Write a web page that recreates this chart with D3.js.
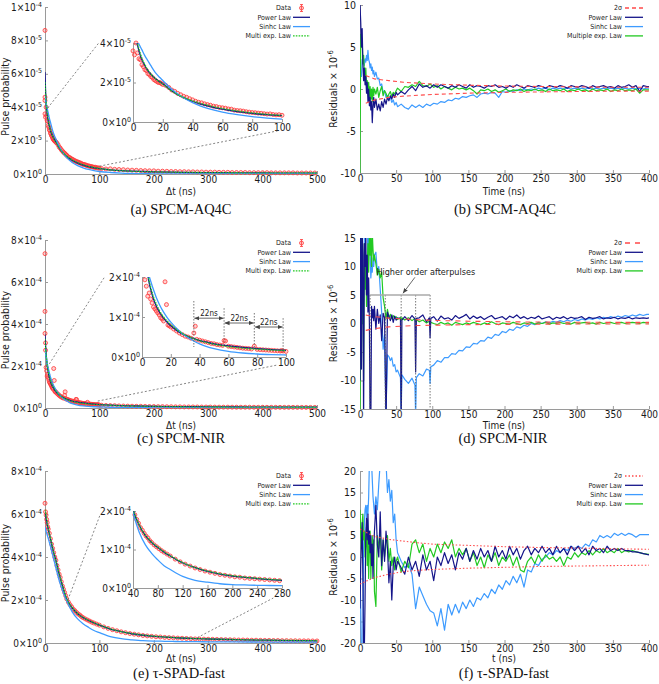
<!DOCTYPE html>
<html><head><meta charset="utf-8">
<script src="https://cdn.jsdelivr.net/npm/d3@7"></script>
<style>body{margin:0;background:#fff}svg{display:block;background:#fff}</style>
</head><body>
<svg id="chart" width="659" height="684"></svg>
<script>
// ---------------- DATA ----------------
const leftXTicks=[0,100,200,300,400,500];
const rightXTicks=[0,50,100,150,200,250,300,350,400];
const leftLegend=["Data","Power Law","Sinhc Law","Multi exp. Law"];
const bLegend=["2\u03c3","Power Law","Sinhc Law","Multiple exp. Law"];
const dfLegend=["2\u03c3","Power Law","Sinhc Law","Multi exp. Law"];
const captions=["(a) SPCM-AQ4C","(b) SPCM-AQ4C","(c) SPCM-NIR","(d) SPCM-NIR","(e) \u03c4-SPAD-fast","(f) \u03c4-SPAD-fast"];

// panel (a) — units of 1e-5
const aYTicks=[0,2,4,6,8,10];
const aYLabels=[["0","0"],["2","-5"],["4","-5"],["6","-5"],["8","-5"],["1","-4"]];
const aInsetXTicks=[0,20,40,60,80,100];
const aInsetYTicks=[0,2,4];
const aInsetYLabels=[["0","0"],["2","-5"],["4","-5"]];
const aDataT=[0,0,0,0,1,2,3,4,5,6,7,8,9,10,11,12,13,14,15,16,17,18,19,20,
22,24,26,28,30,32,34,36,38,40,42,44,46,48,50,52,54,56,58,60,62,64,66,68,70,72,74,76,78,80,82,84,86,88,90,92,94,96,98,100,
104,112,120,128,136,144,152,160,168,176,184,192,200,208,216,224,232,240,248,256,264,272,280,288,296,304,312,320,328,336,
344,352,360,368,376,384,392,400,408,416,424,432,440,448,456,464,472,480,488,496];
const aDataV=[8.6,4.6,4.4,3.6,3.4,4.0,3.5,3.2,3.15,2.9,2.8,2.65,2.6,2.45,2.4,2.3,2.25,2.15,2.1,2.05,2.0,2.0,1.95,1.9,
1.85,1.75,1.62,1.55,1.45,1.38,1.3,1.25,1.18,1.12,1.05,1.0,0.97,0.92,0.88,0.85,0.8,0.78,0.74,0.72,0.7,0.66,0.65,0.6,0.58,0.57,0.55,0.52,0.5,0.48,0.47,0.45,0.44,0.42,0.4,0.41,0.38,0.36,0.37,0.34,
0.33,0.3,0.31,0.28,0.27,0.26,0.24,0.23,0.22,0.21,0.2,0.19,0.19,0.17,0.17,0.16,0.15,0.15,0.14,0.14,
0.13,0.13,0.12,0.12,0.11,0.11,0.11,0.1,0.1,0.1,0.09,0.09,0.09,0.09,0.08,0.08,0.08,0.08,0.08,0.07,
0.07,0.07,0.07,0.07,0.07,0.06,0.06,0.06,0.06,0.06];
const aFitT=[0,1,2,3,4,5,6,8,10,12,15,18,20,25,30,35,40,45,50,60,70,80,90,100,120,140,160,180,200,250,300,350,400,450,500];
const aPower=[6.1,5.0,4.3,3.9,3.6,3.35,3.15,2.85,2.6,2.42,2.2,2.03,1.94,1.63,1.38,1.2,1.05,0.92,0.82,0.65,0.53,0.44,0.37,0.32,0.25,0.2,0.17,0.15,0.13,0.1,0.08,0.07,0.06,0.055,0.05];
const aSinhc=[4.7,4.5,4.3,4.1,3.95,3.8,3.65,3.35,3.1,2.85,2.5,2.25,2.1,1.72,1.42,1.18,0.98,0.82,0.69,0.5,0.37,0.27,0.2,0.15,0.09,0.055,0.035,0.02,0.012,0.005,0.002,0.001,0,0,0];
const aMulti=[5.5,4.9,4.4,4.0,3.7,3.45,3.22,2.9,2.63,2.43,2.2,2.02,1.92,1.62,1.39,1.21,1.07,0.95,0.85,0.68,0.56,0.46,0.39,0.33,0.25,0.2,0.165,0.145,0.13,0.1,0.085,0.075,0.07,0.065,0.06];
const aZoomMain=[[5,3.95],[100,0.47]];
const aZoomInset=[[-23,4.0],[97,-0.45]];

// panel (c) — units of 1e-4
const cYTicks=[0,2,4,6,8];
const cYLabels=[["0","0"],["2","-4"],["4","-4"],["6","-4"],["8","-4"]];
const cInsetXTicks=[0,20,40,60,80,100];
const cInsetYTicks=[0,1,2];
const cInsetYLabels=[["0","0"],["1","-4"],["2","-4"]];
const cDataT=[0,0,0,1,1,2,3,4,5,6,7,8,9,10,11,12,13,14,15,16,17,18,19,20,22,24,26,28,30,32,34,36,37,38,40,42,44,46,48,50,52,54,56,57,58,60,62,64,66,68,70,72,74,76,78,80,82,84,86,88,90,92,94,96,97,98,100,
104,112,120,128,136,144,152,160,168,176,184,192,200,208,216,224,232,240,248,256,264,272,280,288,296,304,312,320,328,336,
344,352,360,368,376,384,392,400,408,416,424,432,440,448,456,464,472,480,488,496];
const cDataV=[7.35,4.6,3.55,3.1,2.75,1.93,1.77,1.52,1.6,1.45,1.35,1.25,1.2,1.15,1.1,1.05,0.98,0.95,0.9,1.88,1.31,0.8,0.78,0.75,
0.7,0.65,0.6,0.56,0.52,0.5,0.47,0.6,0.77,0.44,0.42,0.4,0.38,0.36,0.34,0.33,0.31,0.3,0.29,0.41,0.4,0.27,0.26,0.25,0.24,0.23,0.22,0.215,0.21,0.2,0.27,0.19,0.185,0.18,0.175,0.17,0.165,0.16,0.155,0.15,0.16,0.15,0.14,
0.13,0.12,0.115,0.11,0.1,0.095,0.09,0.085,0.08,0.08,0.075,0.07,0.07,0.065,0.065,0.06,0.06,0.055,0.055,0.05,
0.05,0.05,0.048,0.046,0.045,0.044,0.042,0.04,0.04,0.04,0.038,0.037,0.036,0.035,0.035,0.034,0.033,0.033,0.032,0.032,
0.031,0.031,0.03,0.03,0.03,0.029,0.029,0.028,0.028,0.028];
const cFitT=aFitT;
const cPower=[3.5,3.0,2.6,2.3,2.05,1.85,1.7,1.45,1.27,1.13,0.97,0.85,0.78,0.64,0.54,0.47,0.41,0.37,0.33,0.28,0.24,0.21,0.185,0.165,0.135,0.115,0.1,0.09,0.08,0.065,0.055,0.048,0.043,0.039,0.036];
const cSinhc=[2.8,2.6,2.45,2.3,2.15,2.02,1.9,1.68,1.48,1.32,1.12,0.96,0.87,0.68,0.53,0.42,0.33,0.26,0.21,0.14,0.1,0.075,0.06,0.05,0.035,0.025,0.018,0.013,0.01,0.005,0.003,0.002,0.001,0,0];
const cMulti=[3.3,2.9,2.55,2.3,2.08,1.9,1.75,1.5,1.32,1.17,1.0,0.88,0.81,0.66,0.55,0.47,0.41,0.36,0.32,0.26,0.22,0.195,0.175,0.16,0.13,0.11,0.095,0.085,0.075,0.06,0.05,0.045,0.04,0.037,0.035];
const cZoomMain=[[8,2.1],[97,0.33]];
const cZoomInset=[[-26,2.0],[94,-0.2]];
const cMarkT=[36,57,78,98];
const cMarkTop=[1.4,1.22,1.1,0.97];
const cMarkBot=[0.25,0.37,0.25,0.12];
const cArrowV=[0.97,0.85,0.75];
const cArrowLabel="22ns";

// panel (e) — units of 1e-4
const eYTicks=cYTicks, eYLabels=cYLabels;
const eInsetXTicks=[40,80,120,160,200,240,280];
const eInsetYTicks=[0,1,2];
const eInsetYLabels=[["0","0"],["1","-4"],["2","-4"]];
const eDataT=[0,1,2,3,4,5,6,8,10,12,14,16,18,20,22,24,26,28,30,32,34,36,38,40,43,46,49,52,55,58,61,64,67,70,74,78,82,86,90,95,100,
108,116,124,132,140,148,156,164,172,180,188,196,204,212,220,228,236,244,252,260,268,276,284,292,300,308,316,324,332,340,
348,356,364,372,380,388,396,404,412,420,428,436,444,452,460,468,476,484,492,500];
const eDataV=[6.5,6.1,5.95,5.75,5.6,5.4,5.3,5.1,4.85,4.6,4.4,4.2,4.0,3.85,3.6,3.4,3.2,3.05,2.85,2.65,2.5,2.35,2.2,2.05,
1.9,1.78,1.68,1.57,1.5,1.42,1.35,1.3,1.23,1.18,1.12,1.07,1.02,0.97,0.93,0.88,0.83,
0.75,0.68,0.62,0.57,0.52,0.48,0.44,0.41,0.38,0.35,0.33,0.31,0.29,0.28,0.26,0.25,0.24,0.23,0.22,0.21,
0.2,0.19,0.185,0.18,0.175,0.17,0.165,0.16,0.155,0.15,0.145,0.14,0.14,0.135,0.13,0.13,0.125,0.12,0.12,0.115,
0.115,0.11,0.11,0.105,0.105,0.1,0.1,0.1,0.095,0.095];
const eFitT=[0,2,5,10,15,20,25,30,35,40,50,60,70,80,90,100,120,140,160,180,200,220,240,260,280,300,350,400,450,500];
const ePower=[6.1,5.8,5.4,4.85,4.3,3.85,3.3,2.85,2.4,2.05,1.63,1.36,1.18,1.05,0.93,0.83,0.65,0.53,0.43,0.36,0.31,0.275,0.245,0.22,0.2,0.185,0.155,0.13,0.115,0.1];
const eSinhc=[5.4,5.2,4.95,4.5,4.0,3.5,3.0,2.6,2.25,1.95,1.45,1.12,0.9,0.73,0.58,0.48,0.3,0.2,0.15,0.11,0.09,0.08,0.07,0.065,0.06,0.055,0.05,0.045,0.04,0.04];
const eMulti=[6.2,5.9,5.45,4.87,4.32,3.83,3.32,2.86,2.42,2.06,1.64,1.37,1.19,1.06,0.94,0.84,0.66,0.53,0.44,0.37,0.32,0.28,0.25,0.225,0.205,0.19,0.16,0.135,0.12,0.105];
const eZoomMain=[[42,2.0],[280,0.25]];
const eZoomInset=[[-13,1.9],[266,-0.26]];

// residual panels — units of 1e-6
const gridT=[0,1,2,3,4,5,6,7,8,9,10,11,12,13,14,15,16,17,18,19,20,
22,24,26,28,30,32,34,36,38,40,42,44,46,48,50,
52,57,62,67,72,77,82,87,92,97,102,107,112,117,122,127,132,137,142,147,
152,157,162,167,172,177,182,187,192,197,202,207,212,217,222,227,232,237,242,247,
252,257,262,267,272,277,282,287,292,297,302,307,312,317,322,327,332,337,342,347,
352,357,362,367,372,377,382,387,392,397,400];
const bYTicks=[-10,-5,0,5,10];
const bPower=[10,8,5,7.2,3,1,2.5,0.5,1.5,-0.5,0.8,-1.5,0,-2,-1,-2.5,-1.5,-4,-2,-1,-2.2,
-1.2,-2.5,-1.8,-2.6,-1.5,-2.2,-1.2,-1.8,-1.0,-1.4,-0.8,-1.2,-0.6,-1.0,-0.4,
-0.7,-0.3,-0.6,-0.1,0.3,-0.2,0.6,0.2,0.4,0.1,0.5,0.2,0.5,0.3,0.1,0.4,0.2,0.5,0.3,0.1,
0.5,0.2,0.4,0.3,0.1,0.4,0.3,0.5,0.2,0.3,0.1,0.4,0.2,0.5,0.3,0.1,0.4,0.3,0.2,0.4,
0.3,0.1,0.4,0.3,0.2,0.4,0.3,0.1,0.4,0.3,0.2,0.4,0.3,0.1,0.4,0.2,0.3,0.4,0.2,0.3,
0.1,0.4,0.2,0.3,0.5,0.2,0.4,-0.3,0.4,0.3,0.3];
const bSinhc=[1.3,2,1.5,3.5,3,3.5,2.8,3.6,3.2,4,3.4,4.6,3.5,3.2,2.5,3,2.2,2.6,1.8,2.2,1.5,
2,1.2,1.3,0.4,0.6,-0.4,-0.2,-1.0,-0.8,-1.2,-1.0,-1.6,-1.3,-1.9,-1.6,
-2.1,-1.8,-2.2,-2.4,-1.9,-2.2,-1.9,-2.2,-1.8,-2.0,-1.7,-1.8,-1.5,-1.6,-1.3,-1.4,-1.1,-1.2,-0.9,-1.0,
-0.8,-0.7,-1.0,-0.6,-0.5,-0.6,-0.4,-0.5,-1.0,-0.3,-0.4,-0.2,-0.3,-0.1,-0.2,0.0,-0.1,0.0,-0.1,0.1,
0.0,0.1,-0.1,0.1,0.0,0.1,0.0,0.1,0.0,0.1,0.0,0.1,0.0,0.1,0.0,0.1,0.0,0.1,0.0,0.1,
0.0,0.1,0.0,0.1,0.0,0.1,0.0,0.1,0.0,0.1,0.1];
const bMulti=[-10,6.5,5.5,6,3,4,2,1,2.5,0.5,1,-0.5,0.8,-1,0.3,-1.2,0,-1.5,0.2,-0.8,0,
-0.6,0.2,-1.0,-0.2,0.3,-0.8,-0.2,-0.5,-1.0,-0.6,-0.3,-0.9,-0.4,-0.6,-0.2,
0.1,-0.3,0.3,0.2,0.5,0.3,0.9,0.4,0.3,0.6,0.2,0.4,0.0,0.3,0.1,-0.1,0.2,0.0,0.1,-0.1,
0.1,-0.2,-0.6,-0.1,-0.2,0.0,-0.3,-0.1,-0.4,-0.2,0.0,-0.3,-0.1,-0.2,0.0,-0.3,-0.1,-0.2,0.0,-0.2,
-0.1,-0.3,0.0,-0.2,-0.1,-0.2,0.0,-0.3,-0.1,-0.2,0.0,-0.2,-0.1,-0.3,0.0,-0.2,-0.1,-0.2,0.0,-0.3,
-0.1,-0.2,0.0,-0.2,-0.1,-0.2,0.0,-0.5,-0.1,-0.1,-0.1];
const bSigT=[8,20,40,60,80,100,150,200,250,300,350,400];
const bSigUp=[1.6,1.2,1.0,0.8,0.7,0.6,0.45,0.35,0.3,0.25,0.2,0.2];
const bSigLo=[-1.7,-1.3,-1.0,-0.85,-0.75,-0.65,-0.5,-0.4,-0.35,-0.3,-0.25,-0.25];

const dT=[0,1,2,3,4,5,6,7,8,9,10,11,12,13,14,15,16,17,18,19,20,
22,24,26,28,30,32,34,36,38,40,42,44,46,48,50,
52,56,57,58,62,67,72,76,77,78,82,87,92,96,97,98,
102,107,112,117,122,127,132,137,142,147,152,157,162,167,172,177,182,187,192,197,
202,207,212,217,222,227,232,237,242,247,252,257,262,267,272,277,282,287,292,297,
302,307,312,317,322,327,332,337,342,347,352,357,362,367,372,377,382,387,392,397,400];
const dYTicks=[-15,-10,-5,0,5,10,15];
const dPower=[-10,18,-8,16,12,-18,14,10,16,5,12,2,8,0,-18,-18,3,1,2.5,0.5,3,
-1,2.5,0,1.5,-3,1.8,1,-18,2,1.2,0.5,1.5,0.2,1.3,0.6,
1.0,0.8,-18,0.6,1.2,0.5,1.4,0.8,-8.5,0.9,1.0,1.5,0.3,1.0,-2.5,0.9,
1.2,0.4,1.3,0.8,1.0,0.6,1.4,0.9,1.2,1.6,0.8,1.3,0.9,1.2,0.7,1.1,1.4,0.8,1.0,1.2,
0.7,1.3,1.0,1.5,0.9,1.2,0.8,1.1,0.9,1.3,0.8,1.0,1.2,0.7,1.1,0.9,1.2,0.8,1.1,0.9,
1.0,1.2,0.7,1.1,0.9,1.0,1.2,0.8,1.0,0.9,1.1,0.8,1.0,0.9,1.1,0.8,1.0,0.9,1.0,0.9,1.0];
const dSinhc=[2,16,18,6,18,16,17,12,18,16,17,10,16,14,12,8,10,9,11.5,10,12,
12.5,9,10,6,2,-4.5,-2,-15.5,-5.5,-5.8,-6.5,-6,-7.5,-7.2,-8.5,
-8.2,-9.5,-16,-9,-9.8,-10.5,-9.6,-10.8,-16,-9.5,-8.8,-9.2,-8.0,-8.2,-10.5,-7.6,
-7.3,-6.5,-6.8,-6.0,-6.0,-5.3,-5.4,-4.7,-4.8,-4.1,-4.2,-3.5,-3.6,-3.0,-3.1,-2.4,-2.6,-1.9,-2.1,-1.4,
-1.6,-1.0,-1.2,-0.6,-0.8,-0.3,-0.5,0.0,-0.2,0.2,0.0,0.3,0.1,0.4,0.2,0.5,0.3,0.6,0.4,0.7,
0.5,0.8,0.6,0.9,0.7,1.0,0.8,1.1,0.9,1.2,1.0,1.3,1.1,1.4,1.2,1.5,1.3,1.6,1.4,1.6,1.6];
const dMulti=[-18,7,15,0,8,-10,14,6,12,3,10,14,9,16,12,15,10,16,13,11,12,
10.5,8.5,9.5,8,9,4.5,3,0.8,2.5,1.0,1.6,0.8,1.4,0.9,1.2,
0.7,1.1,0.5,1.0,0.6,1.0,0.5,0.9,0.2,0.7,0.3,0.6,0.1,0.4,-0.2,0.2,
0.0,-0.2,0.2,-0.1,0.1,-0.3,0.2,0.0,-0.2,0.1,-0.1,0.2,0.0,-0.2,0.1,-0.1,0.3,0.0,-0.2,0.1,
0.0,-0.1,0.2,0.0,-0.2,0.1,0.0,0.2,-0.1,0.1,0.0,0.2,-0.1,0.1,0.0,0.2,0.0,0.1,-0.1,0.2,
0.0,0.1,0.2,0.0,0.1,-0.1,0.2,0.0,0.1,0.2,0.0,0.1,0.2,0.0,0.1,0.2,0.1,0.0,0.2,0.1,0.1];
const dSigT=[8,20,40,60,80,100,150,200,250,300,350,400];
const dSigUp=[1.5,1.2,0.95,0.8,0.65,0.55,0.4,0.3,0.25,0.22,0.2,0.2];
const dSigLo=[-1.2,-0.9,-0.6,-0.45,-0.35,-0.3,-0.2,-0.15,-0.12,-0.1,-0.1,-0.1];
const dAfterT=[14,35,57,77,97];
const dAfterSpan=[5,-15];
const dNoteText="Higher order afterpulses";
const dNotePos=[91,9.1];
const dNoteArrow=[[76,8.1],[59.5,5.3]];

const fYTicks=[-20,-15,-10,-5,0,5,10,15,20];
const fPower=[-12,-2,3,8,-5,-22,-22,-10,5,9,4,10,3,6,1,5,-2,3,-5,2,6,
12,3,0,10.5,-2,4,-1,6,2,-6,-1,-10,-2,0,-3,
-1,-2.5,-4,0,-3,-1,-4.5,0.5,-3,-1,-5.5,0,-2,1,-1.5,0.5,-3,1,-0.5,2,
-1,1.5,-0.5,2,0,1.5,-1,2.5,0,1.5,-0.5,2.5,0.5,2,-0.5,1.5,2.5,0.5,2,1,
2.5,1,2,0.5,2.5,1,2,0.5,2.5,1.5,2.5,1,2,0.5,2.5,1.5,2,1,2.5,1.5,
2,1.5,2,1.5,1.5,1.2,1.2,1.0,0.8,0.6,0.5];
const fSinhc=[-3,-12,-22,-22,-22,2,8,11,12,9,12,10,14,22,22,22,22,18,14,12,10,
14,11,17,22,22,22,22,22,15,18,13,15.5,8,10,4,
1,-1,-2.5,-1.5,-4,-12,-7,-9,-11,-12.5,-13,-16,-12,-17,-11,-13.5,-11,-13,-10.5,-12,
-10,-11.5,-9.5,-10,-8.5,-9.5,-7.5,-8.5,-6.5,-7.5,-5.5,-6.5,-4.5,-6,-4,-7,-3,-3.5,-1.5,-2,
-0.5,0,1,0.5,1.5,1,2,1.5,2.5,2,2.5,2,3,2.5,4,3.5,5,4.5,5,4.5,
5.5,5,5.5,5,5.5,5.2,4.6,5.2,5.2,5.2,5.2];
const fMulti=[11,5,2,8,10,4,6,0,3,7,-2,5,-5,3,6,-5,2,5,0,4,-8,
-11.5,5,2,6,-3,4,0,3,5,-1,2,-2,0,-3,-1,
0,-3.5,-1,-2.5,3,4,1,3,-1,2,0,3,1,3.5,2,4,0,2,0.5,2,
-1,1,-2,0,-2.5,0.5,-1,1,-2,0,-1,0.5,-2,0,-3,-3.5,-1,0,-1.5,0.5,
-1,0.5,-0.5,0,-1,0,-2,0,-0.5,1,0,1,0.5,1.5,0.5,1.5,1,2,1,1.5,
1,2,1,1.5,1.2,1.5,1.2,1.0,0.8,0.7,0.6];
const fSigT=[0,10,20,40,60,80,100,150,200,250,300,350,400];
const fSigUp=[6.5,5.6,4.8,4.1,3.7,3.3,3.0,2.7,2.4,2.2,2.1,1.9,1.8];
const fSigLo=[-6.3,-5.5,-4.8,-4.0,-3.4,-3.1,-2.9,-2.6,-2.4,-2.2,-2.1,-2.0,-1.9];

// ---------------- STYLE ----------------
const FONT="'DejaVu Sans Condensed','DejaVu Sans',sans-serif";
const SERIF="'Liberation Serif','Times New Roman',serif";
const AX="#9a9a9a", TXT="#1a1a1a";
const COL={data:"#ff3a3a",power:"#15158a",sinhc:"#3d9bff",multi:"#22c922",sigma:"#ff4a4a"};

const svg=d3.select("#chart");
svg.append("rect").attr("width",659).attr("height",684).attr("fill","#fff");
const defs=svg.append("defs");
defs.append("marker").attr("id","arr").attr("viewBox","0 0 8 8").attr("refX",8).attr("refY",4)
  .attr("markerWidth",5).attr("markerHeight",5).attr("markerUnits","userSpaceOnUse")
  .attr("orient","auto-start-reverse").append("path").attr("d","M0,0.5L8,4L0,7.5Z").attr("fill","#444");
let clipN=0;
function clip(x0,y0,x1,y1){const id="cp"+(clipN++);
  defs.append("clipPath").attr("id",id).append("rect").attr("x",x0).attr("y",y0).attr("width",x1-x0).attr("height",y1-y0);
  return `url(#${id})`;}
function styleAxis(g,fs){g.select(".domain").attr("stroke",AX);g.selectAll(".tick line").attr("stroke",AX);
  g.selectAll(".tick text").attr("fill",TXT).attr("font-size",fs||10).attr("font-family",FONT);}
function sciText(g,x,y,lab,anchor,fs){fs=fs||10;
  const t=g.append("text").attr("x",x).attr("y",y).attr("dy","0.35em").attr("text-anchor",anchor)
    .attr("font-size",fs).attr("font-family",FONT).attr("fill",TXT);
  t.append("tspan").text(lab[0]+"\u00d710");
  t.append("tspan").attr("font-size",fs*0.7).attr("dy",-fs*0.4).text(lab[1]);}
function dots(g,T,V,x,y,keep){
  g.append("g").selectAll("circle").data(d3.zip(T,V).filter(keep||(()=>true))).join("circle")
   .attr("cx",d=>x(d[0])).attr("cy",d=>y(d[1])).attr("r",2)
   .attr("fill","rgba(255,90,90,0.28)").attr("stroke",COL.data).attr("stroke-width",0.8);}
function fitLines(g,T,series,x,y,cp){
  const line=d3.line().x(d=>x(d[0])).y(d=>y(d[1])).curve(d3.curveMonotoneX);
  const gg=g.append("g").attr("clip-path",cp);
  series.forEach(s=>gg.append("path").attr("d",line(d3.zip(T,s.v))).attr("fill","none")
    .attr("stroke",s.c).attr("stroke-width",s.w||1.3).attr("stroke-dasharray",s.dash||null));}
function legend(g,xText,xl0,xl1,y0,items){
  items.forEach((it,i)=>{const yy=y0+i*9.3;
    g.append("text").attr("x",xText).attr("y",yy).attr("dy","0.35em").attr("text-anchor","end")
      .attr("font-size",7).attr("font-family",FONT).attr("fill",TXT).text(it.label);
    if(it.type==="data"){const cx=(xl0+xl1)/2;
      g.append("line").attr("x1",cx).attr("x2",cx).attr("y1",yy-3.5).attr("y2",yy+3.5).attr("stroke",COL.data).attr("stroke-width",0.8);
      g.append("line").attr("x1",cx-1.5).attr("x2",cx+1.5).attr("y1",yy-3.5).attr("y2",yy-3.5).attr("stroke",COL.data).attr("stroke-width",0.8);
      g.append("line").attr("x1",cx-1.5).attr("x2",cx+1.5).attr("y1",yy+3.5).attr("y2",yy+3.5).attr("stroke",COL.data).attr("stroke-width",0.8);
      g.append("circle").attr("cx",cx).attr("cy",yy).attr("r",2).attr("fill","rgba(255,90,90,0.28)").attr("stroke",COL.data).attr("stroke-width",0.8);
    } else {
      g.append("line").attr("x1",xl0).attr("x2",xl1).attr("y1",yy).attr("y2",yy).attr("stroke",it.c)
       .attr("stroke-width",it.w||1.3).attr("stroke-dasharray",it.dash||null);}
  });}

// ---------------- LEFT PANELS ----------------
function leftPanel(P){
  const g=svg.append("g");
  const x=d3.scaleLinear().domain([0,500]).range([45,317]);
  const y=d3.scaleLinear().domain([0,P.ymax]).range([P.yb,P.yt]);
  const gx=g.append("g").attr("transform",`translate(0,${P.yb})`)
    .call(d3.axisBottom(x).tickValues(leftXTicks).tickSize(-3).tickSizeOuter(0).tickPadding(2).tickFormat(d=>String(d)));
  styleAxis(gx);
  const gy=g.append("g").attr("transform","translate(45,0)")
    .call(d3.axisLeft(y).tickValues(P.yTicks).tickSize(-3).tickSizeOuter(0).tickFormat(()=>""));
  styleAxis(gy);
  P.yTicks.forEach((v,i)=>sciText(g,42,y(v),P.yLabels[i],"end"));
  g.append("text").attr("transform",`translate(9,${(P.yb+P.yt)/2+6}) rotate(-90)`).attr("text-anchor","middle")
    .attr("font-size",10.5).attr("font-family",FONT).attr("fill",TXT).text("Pulse probability");
  g.append("text").attr("x",181).attr("y",P.xtY).attr("text-anchor","middle").attr("font-size",10)
    .attr("font-family",FONT).attr("fill",TXT).text("\u0394t (ns)");
  g.append("text").attr("x",P.capX).attr("y",P.capY).attr("text-anchor","middle").attr("font-size",14.5)
    .attr("font-family",SERIF).attr("fill","#111").text(P.caption);
  dots(g,P.dataT,P.dataV,x,y);
  const fits=[{v:P.power,c:COL.power},{v:P.sinhc,c:COL.sinhc},{v:P.multi,c:COL.multi,dash:"1.6,1.2"}];
  fitLines(g,P.fitT,fits,x,y,clip(45,P.yt-2,317,P.yb));
  legend(g,291,293,310,P.legY,[{label:leftLegend[0],type:"data"},{label:leftLegend[1],c:COL.power},
    {label:leftLegend[2],c:COL.sinhc},{label:leftLegend[3],c:COL.multi,dash:"1.6,1.2"}]);
  // inset
  const I=P.inset;
  const xi=d3.scaleLinear().domain(I.xd).range(I.xr);
  const yi=d3.scaleLinear().domain([0,I.ymax]).range(I.yr);
  const gix=g.append("g").attr("transform",`translate(0,${I.yr[0]})`)
    .call(d3.axisBottom(xi).tickValues(I.xTicks).tickSize(-3).tickSizeOuter(0).tickPadding(2).tickFormat(d=>String(d)));
  styleAxis(gix);
  const giy=g.append("g").attr("transform",`translate(${I.xr[0]},0)`)
    .call(d3.axisLeft(yi).tickValues(I.yTicks).tickSize(-3).tickSizeOuter(0).tickFormat(()=>""));
  styleAxis(giy);
  I.yTicks.forEach((v,i)=>sciText(g,I.xr[0]-2,yi(v),I.yLabels[i],"end"));
  dots(g,P.dataT,P.dataV,xi,yi,d=>d[0]>=I.xd[0]&&d[0]<=I.xd[1]&&d[1]<=I.ymax*1.01);
  fitLines(g,P.fitT,fits,xi,yi,clip(I.xr[0],I.yr[1],I.xr[1],I.yr[0]));
  P.zoomMain.forEach((m,i)=>{const n=P.zoomInset[i];
    g.append("line").attr("x1",x(m[0])).attr("y1",y(m[1])).attr("x2",xi(n[0])).attr("y2",yi(n[1]))
     .attr("stroke","#666").attr("stroke-width",0.8).attr("stroke-dasharray","2,2");});
  return {g,xi,yi};
}

const pa=leftPanel({ymax:10,yb:174,yt:7,legY:8,yTicks:aYTicks,yLabels:aYLabels,xtY:195,capX:181,capY:214,caption:captions[0],
  dataT:aDataT,dataV:aDataV,fitT:aFitT,power:aPower,sinhc:aSinhc,multi:aMulti,zoomMain:aZoomMain,zoomInset:aZoomInset,
  inset:{xd:[0,100],xr:[133,282],ymax:4,yr:[122,43],xTicks:aInsetXTicks,yTicks:aInsetYTicks,yLabels:aInsetYLabels}});
const pc=leftPanel({ymax:8,yb:408,yt:240,legY:243,yTicks:cYTicks,yLabels:cYLabels,xtY:429,capX:181,capY:443,caption:captions[2],
  dataT:cDataT,dataV:cDataV,fitT:cFitT,power:cPower,sinhc:cSinhc,multi:cMulti,zoomMain:cZoomMain,zoomInset:cZoomInset,
  inset:{xd:[0,100],xr:[142,286],ymax:2,yr:[357,277],xTicks:cInsetXTicks,yTicks:cInsetYTicks,yLabels:cInsetYLabels}});
const pe=leftPanel({ymax:8,yb:643,yt:471,legY:476,yTicks:eYTicks,yLabels:eYLabels,xtY:662,capX:179,capY:678,caption:captions[4],
  dataT:eDataT,dataV:eDataV,fitT:eFitT,power:ePower,sinhc:eSinhc,multi:eMulti,zoomMain:eZoomMain,zoomInset:eZoomInset,
  inset:{xd:[40,280],xr:[133,282],ymax:2,yr:[588,511],xTicks:eInsetXTicks,yTicks:eInsetYTicks,yLabels:eInsetYLabels}});

// 22ns markers in (c) inset
(function(){const g=pc.g,xi=pc.xi,yi=pc.yi;
  cMarkT.forEach((t,i)=>g.append("line").attr("x1",xi(t)).attr("x2",xi(t)).attr("y1",yi(cMarkTop[i])).attr("y2",yi(cMarkBot[i]))
    .attr("stroke","#555").attr("stroke-width",0.8).attr("stroke-dasharray","1.5,1.5"));
  cArrowV.forEach((v,i)=>{const x0=xi(cMarkT[i]),x1=xi(cMarkT[i+1]);
    g.append("line").attr("x1",x0+0.5).attr("x2",x1-0.5).attr("y1",yi(v)).attr("y2",yi(v)).attr("stroke","#444").attr("stroke-width",0.8)
     .attr("marker-start","url(#arr)").attr("marker-end","url(#arr)");
    g.append("text").attr("x",(x0+x1)/2).attr("y",yi(v)-2.5).attr("text-anchor","middle").attr("font-size",8)
     .attr("font-family",FONT).attr("fill",TXT).text(cArrowLabel);});
})();

// ---------------- RIGHT PANELS ----------------
function rightPanel(P){
  const g=svg.append("g");
  const x=d3.scaleLinear().domain([0,400]).range([360,649]);
  const y=d3.scaleLinear().domain([-P.R,P.R]).range([P.yb,P.yt]);
  const gx=g.append("g").attr("transform",`translate(0,${P.yb})`)
    .call(d3.axisBottom(x).tickValues(rightXTicks).tickSize(-3).tickSizeOuter(0).tickPadding(2).tickFormat(d=>String(d)));
  styleAxis(gx);
  const gy=g.append("g").attr("transform","translate(360,0)")
    .call(d3.axisLeft(y).tickValues(P.yTicks).tickSize(-3).tickSizeOuter(0).tickPadding(4).tickFormat(d=>String(d)));
  styleAxis(gy,10.5);
  const yt=g.append("text").attr("transform",`translate(337,${(P.yb+P.yt)/2}) rotate(-90)`).attr("text-anchor","middle")
    .attr("font-size",10.5).attr("font-family",FONT).attr("fill",TXT);
  yt.append("tspan").text("Residuals \u00d7 10");
  yt.append("tspan").attr("font-size",7.5).attr("dy",-4.5).text("-6");
  g.append("text").attr("x",504).attr("y",P.xtY).attr("text-anchor","middle").attr("font-size",10)
    .attr("font-family",FONT).attr("fill",TXT).text(P.xTitle);
  g.append("text").attr("x",P.capX).attr("y",P.capY).attr("text-anchor","middle").attr("font-size",14.5)
    .attr("font-family",SERIF).attr("fill","#111").text(P.caption);
  const cp=clip(360,P.yt,649,P.yb);
  const line=d3.line().x(d=>x(d[0])).y(d=>y(d[1]));
  const gl=g.append("g").attr("clip-path",cp);
  [[P.sinhc,COL.sinhc],[P.multi,COL.multi],[P.power,COL.power]].forEach(([v,c])=>
    gl.append("path").attr("d",line(d3.zip(P.T,v))).attr("fill","none").attr("stroke",c).attr("stroke-width",1.2).attr("stroke-linejoin","round"));
  [P.sigUp,P.sigLo].forEach(v=>gl.append("path").attr("d",line(d3.zip(P.sigT,v))).attr("fill","none")
    .attr("stroke",COL.sigma).attr("stroke-width",1.1).attr("stroke-dasharray",P.sigDash));
  legend(g,622,625,643,P.legY,[{label:P.legend[0],c:COL.sigma,dash:P.sigDash},{label:P.legend[1],c:COL.power},
    {label:P.legend[2],c:COL.sinhc},{label:P.legend[3],c:COL.multi}]);
  return {g,x,y};
}

rightPanel({R:10,yb:173,yt:5,legY:8,yTicks:bYTicks,xTitle:"Time (ns)",xtY:195,capX:505,capY:214,caption:captions[1],
  T:gridT,power:bPower,sinhc:bSinhc,multi:bMulti,sigT:bSigT,sigUp:bSigUp,sigLo:bSigLo,sigDash:"4,3",legend:bLegend});
const pd=rightPanel({R:15,yb:409,yt:238,legY:243,yTicks:dYTicks,xTitle:"Time (ns)",xtY:429,capX:503,capY:443,caption:captions[3],
  T:dT,power:dPower,sinhc:dSinhc,multi:dMulti,sigT:dSigT,sigUp:dSigUp,sigLo:dSigLo,sigDash:"5,5",legend:dfLegend});
rightPanel({R:20,yb:643,yt:471,legY:476,yTicks:fYTicks,xTitle:"t (ns)",xtY:662,capX:504,capY:678,caption:captions[5],
  T:gridT,power:fPower,sinhc:fSinhc,multi:fMulti,sigT:fSigT,sigUp:fSigUp,sigLo:fSigLo,sigDash:"1.5,2",legend:dfLegend});

// afterpulse annotation in (d)
(function(){const g=pd.g,x=pd.x,y=pd.y;
  dAfterT.forEach(t=>g.append("line").attr("x1",x(t)).attr("x2",x(t)).attr("y1",y(dAfterSpan[0])).attr("y2",y(dAfterSpan[1]))
    .attr("stroke","#555").attr("stroke-width",0.8).attr("stroke-dasharray","1.5,1.5"));
  g.append("line").attr("x1",x(dAfterT[0])).attr("x2",x(dAfterT[dAfterT.length-1])).attr("y1",y(dAfterSpan[0])).attr("y2",y(dAfterSpan[0]))
    .attr("stroke","#aaa").attr("stroke-width",1.6);
  g.append("text").attr("x",x(dNotePos[0])).attr("y",y(dNotePos[1])).attr("dy","0.35em").attr("text-anchor","middle")
    .attr("font-size",9).attr("font-family",FONT).attr("fill",TXT).text(dNoteText);
  g.append("line").attr("x1",x(dNoteArrow[0][0])).attr("y1",y(dNoteArrow[0][1])).attr("x2",x(dNoteArrow[1][0])).attr("y2",y(dNoteArrow[1][1]))
    .attr("stroke","#444").attr("stroke-width",0.8).attr("marker-end","url(#arr)");
})();
</script></body></html>
